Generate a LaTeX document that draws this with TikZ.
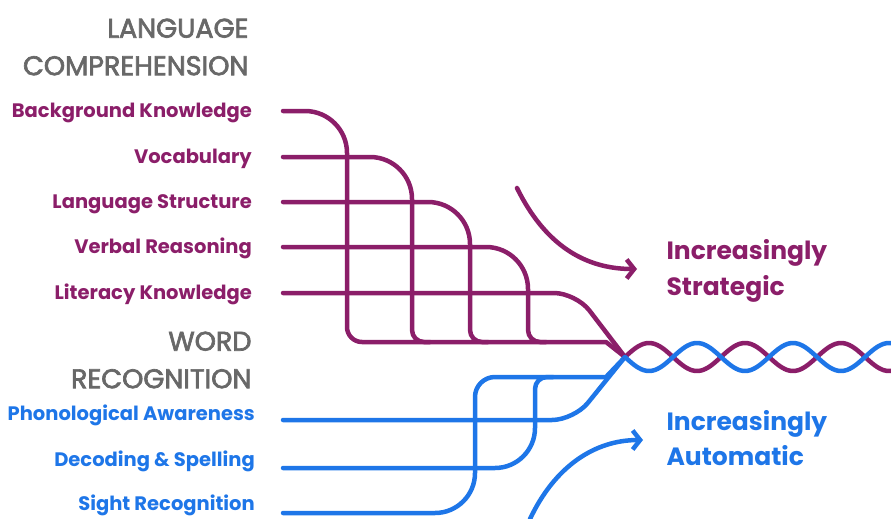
\documentclass[tikz,border=0pt]{standalone}
\usepackage{fontspec}
\setmainfont{Poppins}
\newfontfamily\headfont{Poppins}[FakeBold=2.5]
\usetikzlibrary{positioning, arrows.meta}
\definecolor{ropepurple}{RGB}{139,30,105}
\definecolor{ropeblue}{RGB}{30,118,232}
\definecolor{ropegray}{RGB}{104,104,104}

\begin{document}
\begin{tikzpicture}[x=1pt, y=-1pt,
    heading/.style={align=right, anchor=east, text=ropegray,
        font=\headfont\fontsize{27}{37.5}\selectfont},
    skill/.style={font=\bfseries\fontsize{19.5}{22}\selectfont,
        text height=13.6pt, text depth=0pt, inner sep=0pt},
    lcskill/.style={skill, text=ropepurple},
    wrskill/.style={skill, text=ropeblue},
    outcome/.style={align=left, anchor=west, font=\bfseries\fontsize{25}{35.5}\selectfont},
    strand/.style={line width=4.5pt, line cap=round, line join=round},
    lcstrand/.style={strand, draw=ropepurple},
    wrstrand/.style={strand, draw=ropeblue},
    trend/.style={strand, -{Straight Barb[length=7.5pt, width=19pt]}}
]
\clip (0,0) rectangle (891,519);

% where the strands start
\coordinate (bk) at (283,111);
\coordinate (voc) at (283,157);
\coordinate (ls) at (283,202);
\coordinate (vr) at (283,247);
\coordinate (lk) at (283,293);
\coordinate (pa) at (283,420);
\coordinate (ds) at (283,468);
\coordinate (sr) at (283,513);
\coordinate (mp) at (625,357); % where both halves meet

% headings
\node[heading] (LC) at (252,47) {LANGUAGE\\COMPREHENSION};
\node[heading] (WR) at (255,360) {WORD\\RECOGNITION};

% skills
\node[lcskill, left=31pt of bk] (BK) {Background Knowledge};
\node[lcskill, left=31pt of voc] (VOC) {Vocabulary};
\node[lcskill, left=31pt of ls] (LS) {Language Structure};
\node[lcskill, left=31pt of vr] (VR) {Verbal Reasoning};
\node[lcskill, left=31pt of lk] (LK) {Literacy Knowledge};
\node[wrskill, left=28pt of pa, yshift=6pt] (PA) {Phonological Awareness};
\node[wrskill, left=28pt of ds, yshift=8pt] (DS) {Decoding \& Spelling};
\node[wrskill, left=28pt of sr, yshift=9pt] (SR) {Sight Recognition};

% outcomes
\node[outcome, text=ropepurple] (IS) at (663,271) {Increasingly\\Strategic};
\node[outcome, text=ropeblue] (IA) at (663,438) {Increasingly\\Automatic};

% language comprehension strands
\draw[lcstrand] (bk) -- (305,111) arc[start angle=-90, end angle=0, radius=42]
    -- (347,327) arc[start angle=180, end angle=90, radius=15] -- (606,342) -- (mp);
\draw[lcstrand] (voc) -- (370,157) arc[start angle=-90, end angle=0, radius=42]
    -- (412,330) arc[start angle=180, end angle=90, radius=12] -- (430,342);
\draw[lcstrand] (ls) -- (428,202) arc[start angle=-90, end angle=0, radius=42]
    -- (470,330) arc[start angle=180, end angle=90, radius=12] -- (488,342);
\draw[lcstrand] (vr) -- (486,247) arc[start angle=-90, end angle=0, radius=42]
    -- (528,330) arc[start angle=180, end angle=90, radius=12] -- (546,342);
\draw[lcstrand, rounded corners=22] (lk) -- (576,293) -- (mp);

% word recognition strands
\draw[wrstrand, rounded corners=22] (pa) -- (574,420) -- (mp);
\draw[wrstrand] (ds) -- (495,468) arc[start angle=90, end angle=0, radius=40]
    -- (535,389) arc[start angle=180, end angle=270, radius=12] -- (553,377);
\draw[wrstrand] (sr) -- (435,513) arc[start angle=90, end angle=0, radius=40]
    -- (475,397) arc[start angle=180, end angle=270, radius=20] -- (606,377) -- (mp);

% the braid
\draw[lcstrand] plot[domain=625:900, samples=120, smooth] (\x, {357-14*sin(3.75*(\x-625))});
\draw[wrstrand] plot[domain=625:900, samples=120, smooth] (\x, {357+14*sin(3.75*(\x-625))});

% trend arrows
\coordinate (st0) at (517,188);
\coordinate (st1) at (637,269);
\coordinate (au0) at (530,519);
\coordinate (au1) at (643,440);
\draw[trend, draw=ropepurple] (st0) .. controls (545,245) and (585,269) .. (st1);
\draw[trend, draw=ropeblue] (au0) .. controls (555,466) and (595,440) .. (au1);

\end{tikzpicture}
\end{document}
